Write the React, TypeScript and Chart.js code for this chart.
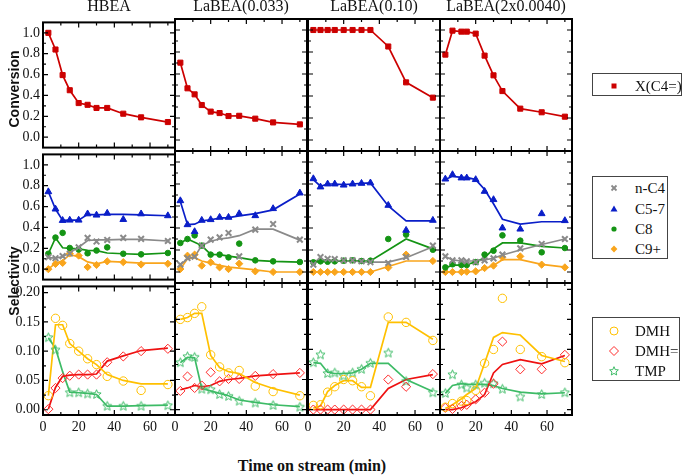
import React, { useEffect, useRef } from "react";
import { Chart, registerables } from "chart.js";
Chart.register(...registerables);

// ---------------- data ----------------
const T_HBEA = [3, 7, 11, 15, 20, 25, 30, 36, 45, 55, 70];
const T_LA033 = [3, 7, 11, 15, 20, 25, 30, 36, 45, 55, 70];
const T_LA010 = [3, 7, 11, 15, 20, 25, 30, 35, 45, 55, 70];
const T_LA2X = [3, 7, 12, 15, 20, 25, 30, 35, 45, 57, 70];

const CATALYSTS = ["HBEA", "LaBEA(0.033)", "LaBEA(0.10)", "LaBEA(2x0.0040)"];

const X_TICKS = [0, 20, 40, 60];
const X_MINOR = [10, 30, 50, 70];
const Y_TICKS = [0, 0.2, 0.4, 0.6, 0.8, 1.0];
const Y_MINOR = [0.1, 0.3, 0.5, 0.7, 0.9];
const Y3_TICKS = [0, 0.05, 0.1, 0.15, 0.2];
const Y3_MINOR = [0.025, 0.075, 0.125, 0.175];

// Conversion X(C4=)
const CONV_HBEA = [1.0, 0.84, 0.595, 0.45, 0.327, 0.31, 0.28, 0.28, 0.225, 0.19, 0.145];
const CONV_LA033 = [0.703, 0.47, 0.415, 0.318, 0.258, 0.245, 0.218, 0.22, 0.194, 0.16, 0.142];
const CONV_LA010 = [1.0, 1.0, 1.0, 1.0, 1.0, 1.0, 1.0, 1.0, 0.85, 0.524, 0.385];
const CONV_LA2X = [0.776, 0.994, 0.985, 0.985, 0.967, 0.767, 0.588, 0.445, 0.285, 0.252, 0.212];

// HBEA selectivities (markers, trend line)
const HBEA_NC4 = [0.115, 0.105, 0.125, 0.15, 0.21, 0.3, 0.265, 0.28, 0.3, 0.29, 0.27];
const HBEA_NC4_FIT = [0.11, 0.105, 0.12, 0.16, 0.21, 0.275, 0.28, 0.28, 0.285, 0.285, 0.27];
const HBEA_C57 = [0.742, 0.576, 0.467, 0.47, 0.47, 0.53, 0.518, 0.536, 0.476, 0.53, 0.512];
const HBEA_C57_FIT = [0.742, 0.576, 0.467, 0.47, 0.47, 0.525, 0.52, 0.525, 0.525, 0.52, 0.512];
const HBEA_C8 = [0.148, 0.303, 0.348, 0.203, 0.188, 0.152, 0.179, 0.209, 0.148, 0.142, 0.155];
const HBEA_C8_FIT = [0.148, 0.3, 0.205, 0.2, 0.195, 0.18, 0.178, 0.155, 0.148, 0.142, 0.155];
const HBEA_C9 = [0.0, 0.05, 0.06, 0.15, 0.13, 0.02, 0.04, 0.075, 0.067, 0.045, 0.052];
const HBEA_C9_FIT = [0.0, 0.057, 0.08, 0.14, 0.12, 0.07, 0.05, 0.075, 0.067, 0.058, 0.058];
const HBEA_DMH = [0.024, 0.156, 0.144, 0.113, 0.1, 0.087, 0.077, 0.057, 0.049, 0.033, 0.043];
const HBEA_DMH_FIT = [0.024, 0.145, 0.145, 0.113, 0.1, 0.087, 0.077, 0.06, 0.05, 0.044, 0.044];
const HBEA_DMHE = [0.001, 0.037, 0.054, 0.058, 0.06, 0.06, 0.06, 0.081, 0.091, 0.1, 0.104];
const HBEA_DMHE_FIT = [0.001, 0.038, 0.057, 0.059, 0.06, 0.06, 0.061, 0.083, 0.092, 0.101, 0.105];
const HBEA_TMP = [0.123, 0.102, null, 0.029, 0.029, 0.027, 0.026, 0.006, 0.006, 0.006, 0.007];
const HBEA_TMP_FIT = [0.123, 0.105, 0.065, 0.03, 0.029, 0.028, 0.026, 0.006, 0.006, 0.007, 0.008];

// LaBEA(0.033)
const LA033_NC4 = [0.067, 0.127, 0.14, 0.24, 0.294, 0.315, 0.355, 0.142, 0.385, 0.436, 0.294];
const LA033_NC4_FIT = [0.067, 0.12, 0.14, 0.24, 0.28, 0.3, 0.31, 0.33, 0.39, 0.39, 0.29];
const LA033_C57 = [0.648, 0.43, 0.367, 0.47, 0.476, 0.497, 0.497, 0.53, 0.512, 0.576, 0.718];
const LA033_C57_FIT = [0.64, 0.43, 0.435, 0.465, 0.475, 0.49, 0.495, 0.51, 0.53, 0.565, 0.71];
const LA033_C8 = [0.264, 0.3, 0.333, 0.24, 0.158, 0.158, 0.133, 0.258, 0.106, 0.097, 0.091];
const LA033_C8_FIT = [0.264, 0.3, 0.27, 0.24, 0.16, 0.158, 0.145, 0.13, 0.106, 0.097, 0.09];
const LA033_C9 = [0.027, 0.148, 0.158, 0.058, 0.088, 0.042, 0.027, 0.076, 0.006, 0.0, 0.0];
const LA033_C9_FIT = [0.027, 0.12, 0.13, 0.1, 0.08, 0.06, 0.045, 0.035, 0.02, 0.0, 0.0];
const LA033_DMH = [0.15, 0.153, 0.16, 0.171, 0.091, 0.071, 0.061, 0.065, 0.039, 0.03, 0.023];
const LA033_DMH_FIT = [0.15, 0.153, 0.16, 0.16, 0.09, 0.07, 0.063, 0.06, 0.045, 0.035, 0.024];
const LA033_DMHE = [0.031, 0.055, 0.036, 0.04, 0.062, 0.047, 0.051, 0.051, 0.056, 0.059, 0.061];
const LA033_DMHE_FIT = [0.033, 0.036, 0.04, 0.038, 0.04, 0.047, 0.05, 0.052, 0.056, 0.058, 0.061];
const LA033_TMP = [0.078, 0.088, 0.087, 0.034, 0.033, 0.025, 0.022, 0.014, 0.011, 0.007, 0.004];
const LA033_TMP_FIT = [0.078, 0.087, 0.086, 0.035, 0.031, 0.027, 0.023, 0.016, 0.012, 0.008, 0.005];

// LaBEA(0.10)
const LA010_NC4 = [0.067, 0.136, 0.12, 0.118, 0.106, 0.106, 0.097, 0.09, 0.082, 0.136, 0.24];
const LA010_NC4_FIT = [0.1, 0.11, 0.11, 0.105, 0.1, 0.1, 0.095, 0.09, 0.09, 0.13, 0.23];
const LA010_C57 = [0.848, 0.773, 0.8, 0.8, 0.79, 0.8, 0.806, 0.81, 0.606, 0.379, 0.47];
const LA010_C57_FIT = [0.84, 0.78, 0.8, 0.8, 0.795, 0.8, 0.805, 0.81, 0.6, 0.465, 0.465];
const LA010_C8 = [0.088, 0.097, 0.094, 0.097, 0.103, 0.106, 0.1, 0.103, 0.3, 0.34, 0.203];
const LA010_C8_FIT = [0.09, 0.095, 0.095, 0.097, 0.1, 0.103, 0.1, 0.1, 0.2, 0.3, 0.21];
const LA010_C9 = [0, 0, 0, 0, 0, 0, 0, 0, 0.04, 0.158, 0.1];
const LA010_C9_FIT = [0, 0, 0, 0, 0, 0, 0, 0, 0.05, 0.1, 0.1];
const LA010_DMH = [0.007, 0.008, 0.029, 0.038, 0.05, 0.048, 0.038, 0.023, 0.154, 0.145, 0.115];
const LA010_DMH_FIT = [0.003, 0.006, 0.03, 0.04, 0.048, 0.048, 0.037, 0.037, 0.145, 0.145, 0.117];
const LA010_DMHE = [0, 0, 0, 0, 0, 0, 0, 0, 0.05, 0.038, 0.059];
const LA010_DMHE_FIT = [0, 0, 0, 0, 0, 0, 0, 0, 0.035, 0.05, 0.058];
const LA010_TMP = [0.078, 0.091, 0.06, 0.061, 0.056, 0.061, 0.067, 0.077, 0.094, 0.047, 0.028];
const LA010_TMP_FIT = [0.078, 0.077, 0.062, 0.06, 0.06, 0.061, 0.067, 0.077, 0.077, 0.05, 0.03];

// LaBEA(2x0.0040)
const LA2X_NC4 = [0.142, 0.106, 0.106, 0.097, 0.09, 0.106, 0.124, 0.158, 0.215, 0.255, 0.3];
const LA2X_NC4_FIT = [0.14, 0.11, 0.1, 0.1, 0.1, 0.11, 0.125, 0.155, 0.2, 0.25, 0.3];
const LA2X_C57 = [0.845, 0.885, 0.855, 0.855, 0.84, 0.733, 0.658, 0.4, 0.39, 0.53, 0.467];
const LA2X_C57_FIT = [0.84, 0.87, 0.86, 0.86, 0.84, 0.75, 0.62, 0.48, 0.436, 0.457, 0.457];
const LA2X_C8 = [0.042, 0.07, 0.064, 0.064, 0.09, 0.158, 0.194, 0.333, 0.285, 0.179, 0.218];
const LA2X_C8_FIT = [0.04, 0.06, 0.065, 0.07, 0.09, 0.13, 0.21, 0.264, 0.264, 0.233, 0.218];
const LA2X_C9 = [0, 0, 0, 0.003, 0.006, 0.036, 0.058, 0.133, 0.142, 0.067, 0.042];
const LA2X_C9_FIT = [0, 0, 0, 0, 0.005, 0.03, 0.06, 0.112, 0.112, 0.07, 0.045];
const LA2X_DMH = [0.004, 0.01, 0.014, 0.015, 0.032, 0.077, 0.1, 0.185, 0.1, 0.088, 0.078];
const LA2X_DMH_FIT = [0.002, 0.008, 0.018, 0.025, 0.035, 0.077, 0.12, 0.128, 0.124, 0.09, 0.08];
const LA2X_DMHE = [0.003, 0.001, 0.006, 0.008, 0.017, 0.028, 0.043, 0.113, 0.067, 0.067, 0.091];
const LA2X_DMHE_FIT = [0.0, 0.0, 0.003, 0.007, 0.013, 0.025, 0.061, 0.075, 0.083, 0.076, 0.09];
const LA2X_TMP = [0.027, 0.058, 0.041, 0.036, 0.041, 0.044, 0.043, 0.034, 0.021, 0.025, 0.028];
const LA2X_TMP_FIT = [0.027, 0.04, 0.043, 0.042, 0.042, 0.042, 0.04, 0.035, 0.029, 0.026, 0.028];

const TIMES = [T_HBEA, T_LA033, T_LA010, T_LA2X];
const CONV = [CONV_HBEA, CONV_LA033, CONV_LA010, CONV_LA2X];
const SEL_HIGH = [
  { nC4: [HBEA_NC4, HBEA_NC4_FIT], c57: [HBEA_C57, HBEA_C57_FIT], c8: [HBEA_C8, HBEA_C8_FIT], c9: [HBEA_C9, HBEA_C9_FIT] },
  { nC4: [LA033_NC4, LA033_NC4_FIT], c57: [LA033_C57, LA033_C57_FIT], c8: [LA033_C8, LA033_C8_FIT], c9: [LA033_C9, LA033_C9_FIT] },
  { nC4: [LA010_NC4, LA010_NC4_FIT], c57: [LA010_C57, LA010_C57_FIT], c8: [LA010_C8, LA010_C8_FIT], c9: [LA010_C9, LA010_C9_FIT] },
  { nC4: [LA2X_NC4, LA2X_NC4_FIT], c57: [LA2X_C57, LA2X_C57_FIT], c8: [LA2X_C8, LA2X_C8_FIT], c9: [LA2X_C9, LA2X_C9_FIT] },
];
const SEL_LOW = [
  { dmh: [HBEA_DMH, HBEA_DMH_FIT], dmhe: [HBEA_DMHE, HBEA_DMHE_FIT], tmp: [HBEA_TMP, HBEA_TMP_FIT] },
  { dmh: [LA033_DMH, LA033_DMH_FIT], dmhe: [LA033_DMHE, LA033_DMHE_FIT], tmp: [LA033_TMP, LA033_TMP_FIT] },
  { dmh: [LA010_DMH, LA010_DMH_FIT], dmhe: [LA010_DMHE, LA010_DMHE_FIT], tmp: [LA010_TMP, LA010_TMP_FIT] },
  { dmh: [LA2X_DMH, LA2X_DMH_FIT], dmhe: [LA2X_DMHE, LA2X_DMHE_FIT], tmp: [LA2X_TMP, LA2X_TMP_FIT] },
];

// ---------------- layout & style ----------------
const SERIF = "'Liberation Serif', 'DejaVu Serif', serif";
const SANS = "'Liberation Sans', Arial, sans-serif";
const COL_LEFT = [43, 175, 308, 440];
const ROW_TOP = [19, 151, 283];
const PW = 132;
const PH = 132;

const C = {
  conv: "#cc0000",
  nC4: "#8a8a8a",
  c57: "#0a1ec8",
  c8: "#149414",
  c9: "#f9a51c",
  dmh: "#ffc000",
  dmhe: "#ff2a2a",
  dmheLine: "#ee1111",
  tmp: "#3dbb66",
};

function starCanvas(color: string, R: number) {
  const size = Math.ceil(R * 2 + 3);
  const c = document.createElement("canvas");
  c.width = size;
  c.height = size;
  const ctx = c.getContext("2d")!;
  const cx = size / 2, cy = size / 2, r = R * 0.45;
  ctx.beginPath();
  for (let i = 0; i < 10; i++) {
    const a = -Math.PI / 2 + (i * Math.PI) / 5;
    const rr = i % 2 === 0 ? R : r;
    const x = cx + rr * Math.cos(a), y = cy + rr * Math.sin(a);
    if (i === 0) ctx.moveTo(x, y);
    else ctx.lineTo(x, y);
  }
  ctx.closePath();
  ctx.strokeStyle = color;
  ctx.lineWidth = 1;
  ctx.stroke();
  return c;
}

function pts(t: number[], v: (number | null)[]) {
  return t.map((x, i) => ({ x, y: v[i] })).filter((p) => p.y !== null && p.y !== undefined);
}

function markerDs(t: number[], v: (number | null)[], color: string, style: any, r: number, filled: boolean, bw = 1) {
  return {
    data: pts(t, v),
    showLine: false,
    pointStyle: style,
    pointRadius: r,
    pointHoverRadius: r,
    pointBackgroundColor: filled ? color : "rgba(0,0,0,0)",
    pointBorderColor: color,
    pointBorderWidth: bw,
  };
}
function lineDs(t: number[], v: (number | null)[], color: string) {
  return {
    data: pts(t, v),
    showLine: true,
    borderColor: color,
    borderWidth: 1.7,
    pointRadius: 0,
    tension: 0,
    fill: false,
  };
}

function datasetsFor(row: number, col: number) {
  const t = TIMES[col];
  if (row === 0) {
    return [
      {
        data: pts(t, CONV[col]),
        showLine: true,
        borderColor: C.conv,
        borderWidth: 1.7,
        pointStyle: "rect",
        pointRadius: 3.6,
        pointBackgroundColor: C.conv,
        pointBorderColor: C.conv,
        pointBorderWidth: 1,
        tension: 0,
      },
    ];
  }
  if (row === 1) {
    const s = SEL_HIGH[col];
    return [
      markerDs(t, s.nC4[0], C.nC4, "crossRot", 4, false, 2),
      markerDs(t, s.c57[0], C.c57, "triangle", 3.9, true),
      markerDs(t, s.c8[0], C.c8, "circle", 2.8, true),
      markerDs(t, s.c9[0], C.c9, "rectRot", 3.6, true),
      lineDs(t, s.nC4[1], C.nC4),
      lineDs(t, s.c57[1], C.c57),
      lineDs(t, s.c8[1], C.c8),
      lineDs(t, s.c9[1], C.c9),
    ];
  }
  const s = SEL_LOW[col];
  return [
    markerDs(t, s.dmh[0], C.dmh, "circle", 4.2, false),
    markerDs(t, s.dmhe[0], C.dmhe, "rectRot", 4.6, false),
    markerDs(t, s.tmp[0], C.tmp, starCanvas(C.tmp, 4.8), 4, false),
    lineDs(t, s.dmh[1], C.dmh),
    lineDs(t, s.dmhe[1], C.dmheLine),
    lineDs(t, s.tmp[1], C.tmp),
  ];
}

const framePlugin = {
  id: "frame",
  afterDatasetsDraw(chart: any, _args: any, opts: any) {
    const { ctx, chartArea: a, scales } = chart;
    const sx = scales.x, sy = scales.y;
    ctx.save();
    ctx.strokeStyle = "#000";
    ctx.lineWidth = 1.2;
    ctx.beginPath();
    const xs: [number, number][] = [...opts.xMaj.map((v: number) => [v, 5]), ...opts.xMin.map((v: number) => [v, 3])];
    for (const [v, len] of xs) {
      const x = sx.getPixelForValue(v);
      ctx.moveTo(x, a.bottom);
      ctx.lineTo(x, a.bottom - len);
      ctx.moveTo(x, a.top);
      ctx.lineTo(x, a.top + len);
    }
    const ys: [number, number][] = [...opts.yMaj.map((v: number) => [v, 5]), ...opts.yMin.map((v: number) => [v, 3])];
    for (const [v, len] of ys) {
      const y = sy.getPixelForValue(v);
      ctx.moveTo(a.left, y);
      ctx.lineTo(a.left + len, y);
      ctx.moveTo(a.right, y);
      ctx.lineTo(a.right - len, y);
    }
    ctx.stroke();
    ctx.lineWidth = 2;
    ctx.strokeRect(a.left, a.top, a.right - a.left, a.bottom - a.top);
    ctx.restore();
  },
};

function Panel({ row, col }: { row: number; col: number }) {
  const ref = useRef<HTMLCanvasElement>(null);
  const padL = col === 0 ? 43 : 8;
  const padR = 8;
  const padT = 8;
  const padB = row === 2 ? 34 : 8;
  const left = COL_LEFT[col] - padL;
  const top = ROW_TOP[row] - padT;
  const w = PW + padL + padR;
  const h = PH + padT + padB;

  useEffect(() => {
    const low = row === 2;
    const yMaj = low ? Y3_TICKS : Y_TICKS;
    const yMin = low ? Y3_MINOR : Y_MINOR;
    const chart = new Chart(ref.current!, {
      type: "scatter",
      data: { datasets: datasetsFor(row, col) as any },
      plugins: [framePlugin as any],
      options: {
        responsive: false,
        maintainAspectRatio: false,
        animation: false,
        devicePixelRatio: 1,
        events: [],
        layout: { padding: { left: 0, right: padR, top: padT, bottom: 0 }, autoPadding: false } as any,
        plugins: {
          legend: { display: false },
          tooltip: { enabled: false },
          frame: { xMaj: X_TICKS, xMin: X_MINOR, yMaj, yMin },
        } as any,
        scales: {
          x: {
            type: "linear",
            position: "bottom",
            min: 0,
            max: 74,
            bounds: "data",
            grid: { display: false, drawTicks: false },
            border: { display: false },
            ticks: {
              display: row === 2,
              font: { family: SERIF, size: 14 },
              color: "#111",
              padding: 4,
              maxRotation: 0,
              autoSkip: false,
              callback: (v: any) => String(v),
            },
            afterBuildTicks: (s: any) => {
              s.ticks = X_TICKS.map((v) => ({ value: v }));
            },
            afterFit: (s: any) => {
              s.height = padB;
            },
          },
          y: {
            type: "linear",
            min: low ? -0.009 : -0.1,
            max: low ? 0.2105 : 1.1,
            bounds: "data",
            grid: { display: false, drawTicks: false },
            border: { display: false },
            ticks: {
              display: col === 0,
              font: { family: SERIF, size: 14 },
              color: "#111",
              padding: 3,
              autoSkip: false,
              callback: (v: any) => Number(v).toFixed(low ? 2 : 1),
            },
            afterBuildTicks: (s: any) => {
              s.ticks = yMaj.map((v) => ({ value: v }));
            },
            afterFit: (s: any) => {
              s.width = padL;
            },
          },
        } as any,
      },
    });
    return () => chart.destroy();
  }, []);

  return (
    <canvas
      ref={ref}
      width={w}
      height={h}
      style={{ position: "absolute", left, top, width: w, height: h }}
    />
  );
}

// ---------------- legends ----------------
function Mk({ kind, color }: { kind: string; color: string }) {
  let el: any = null;
  if (kind === "square") el = <rect x={4.5} y={4.5} width={5} height={5} fill={color} />;
  if (kind === "cross")
    el = (
      <g stroke={color} strokeWidth={1.8}>
        <line x1={4.5} y1={4.5} x2={9.5} y2={9.5} />
        <line x1={9.5} y1={4.5} x2={4.5} y2={9.5} />
      </g>
    );
  if (kind === "tri") el = <polygon points="7,3.5 10.5,9.5 3.5,9.5" fill={color} />;
  if (kind === "dot") el = <circle cx={7} cy={7} r={2.6} fill={color} />;
  if (kind === "diamond") el = <polygon points="7,3.6 10.4,7 7,10.4 3.6,7" fill={color} />;
  if (kind === "ocircle") el = <circle cx={7} cy={7} r={4} fill="none" stroke={color} strokeWidth={1} />;
  if (kind === "odiamond") el = <polygon points="7,2.5 11.5,7 7,11.5 2.5,7" fill="none" stroke={color} strokeWidth={1} />;
  if (kind === "star") {
    const p: string[] = [];
    for (let i = 0; i < 10; i++) {
      const a = -Math.PI / 2 + (i * Math.PI) / 5;
      const rr = i % 2 === 0 ? 4.6 : 2.1;
      p.push(`${(7 + rr * Math.cos(a)).toFixed(2)},${(7.3 + rr * Math.sin(a)).toFixed(2)}`);
    }
    el = <polygon points={p.join(" ")} fill="none" stroke={color} strokeWidth={1} />;
  }
  return (
    <svg width={14} height={14} style={{ position: "absolute", left: 14, top: -7 }}>
      {el}
    </svg>
  );
}

function LegendBox({ left, top, width, height, items }: any) {
  return (
    <div
      style={{
        position: "absolute",
        left,
        top,
        width,
        height,
        boxSizing: "border-box",
        border: "1px solid #444",
        background: "#fff",
        overflow: "hidden",
      }}
    >
      {items.map((it: any, i: number) => (
        <div key={i} style={{ position: "absolute", left: 0, top: it.cy, width: "100%", height: 0 }}>
          <Mk kind={it.kind} color={it.color} />
          <div
            style={{
              position: "absolute",
              left: 42,
              top: -10,
              height: 20,
              lineHeight: "20px",
              fontFamily: SERIF,
              fontSize: 15,
              color: "#111",
              whiteSpace: "nowrap",
            }}
          >
            {it.label}
          </div>
        </div>
      ))}
    </div>
  );
}

export default function App() {
  const panels: any[] = [];
  for (let r = 0; r < 3; r++) for (let c = 0; c < 4; c++) panels.push(<Panel key={`${r}-${c}`} row={r} col={c} />);
  return (
    <div
      style={{
        position: "fixed",
        left: 0,
        top: 0,
        width: 685,
        height: 475,
        background: "#fff",
        overflow: "hidden",
      }}
    >
      {panels}
      {CATALYSTS.map((name, i) => (
        <div
          key={name}
          style={{
            position: "absolute",
            left: COL_LEFT[i] + PW / 2 - 90,
            width: 180,
            top: -2,
            textAlign: "center",
            fontFamily: SERIF,
            fontSize: 16,
            lineHeight: "16px",
            color: "#111",
            whiteSpace: "nowrap",
          }}
        >
          {name}
        </div>
      ))}
      <div
        style={{
          position: "absolute",
          left: 13.5,
          top: 89,
          transform: "translate(-50%, -50%) rotate(-90deg)",
          fontFamily: SANS,
          fontWeight: "bold",
          fontSize: 14,
          whiteSpace: "nowrap",
          color: "#111",
        }}
      >
        Conversion
      </div>
      <div
        style={{
          position: "absolute",
          left: 13.5,
          top: 281,
          transform: "translate(-50%, -50%) rotate(-90deg)",
          fontFamily: SANS,
          fontWeight: "bold",
          fontSize: 14,
          whiteSpace: "nowrap",
          color: "#111",
        }}
      >
        Selectivity
      </div>
      <div
        style={{
          position: "absolute",
          left: 312,
          top: 466,
          transform: "translate(-50%, -50%)",
          fontFamily: SERIF,
          fontWeight: "bold",
          fontSize: 16,
          whiteSpace: "nowrap",
          color: "#111",
        }}
      >
        Time on stream (min)
      </div>
      <LegendBox
        left={592}
        top={73}
        width={90}
        height={23}
        items={[{ label: "X(C4=)", kind: "square", color: C.conv, cy: 11.5 }]}
      />
      <LegendBox
        left={592}
        top={176}
        width={76}
        height={83}
        items={[
          { label: "n-C4", kind: "cross", color: C.nC4, cy: 11 },
          { label: "C5-7", kind: "tri", color: C.c57, cy: 31.5 },
          { label: "C8", kind: "dot", color: C.c8, cy: 52 },
          { label: "C9+", kind: "diamond", color: C.c9, cy: 72 },
        ]}
      />
      <LegendBox
        left={592}
        top={317}
        width={88}
        height={64}
        items={[
          { label: "DMH", kind: "ocircle", color: C.dmh, cy: 13 },
          { label: "DMH=", kind: "odiamond", color: C.dmhe, cy: 33 },
          { label: "TMP", kind: "star", color: C.tmp, cy: 53 },
        ]}
      />
    </div>
  );
}
